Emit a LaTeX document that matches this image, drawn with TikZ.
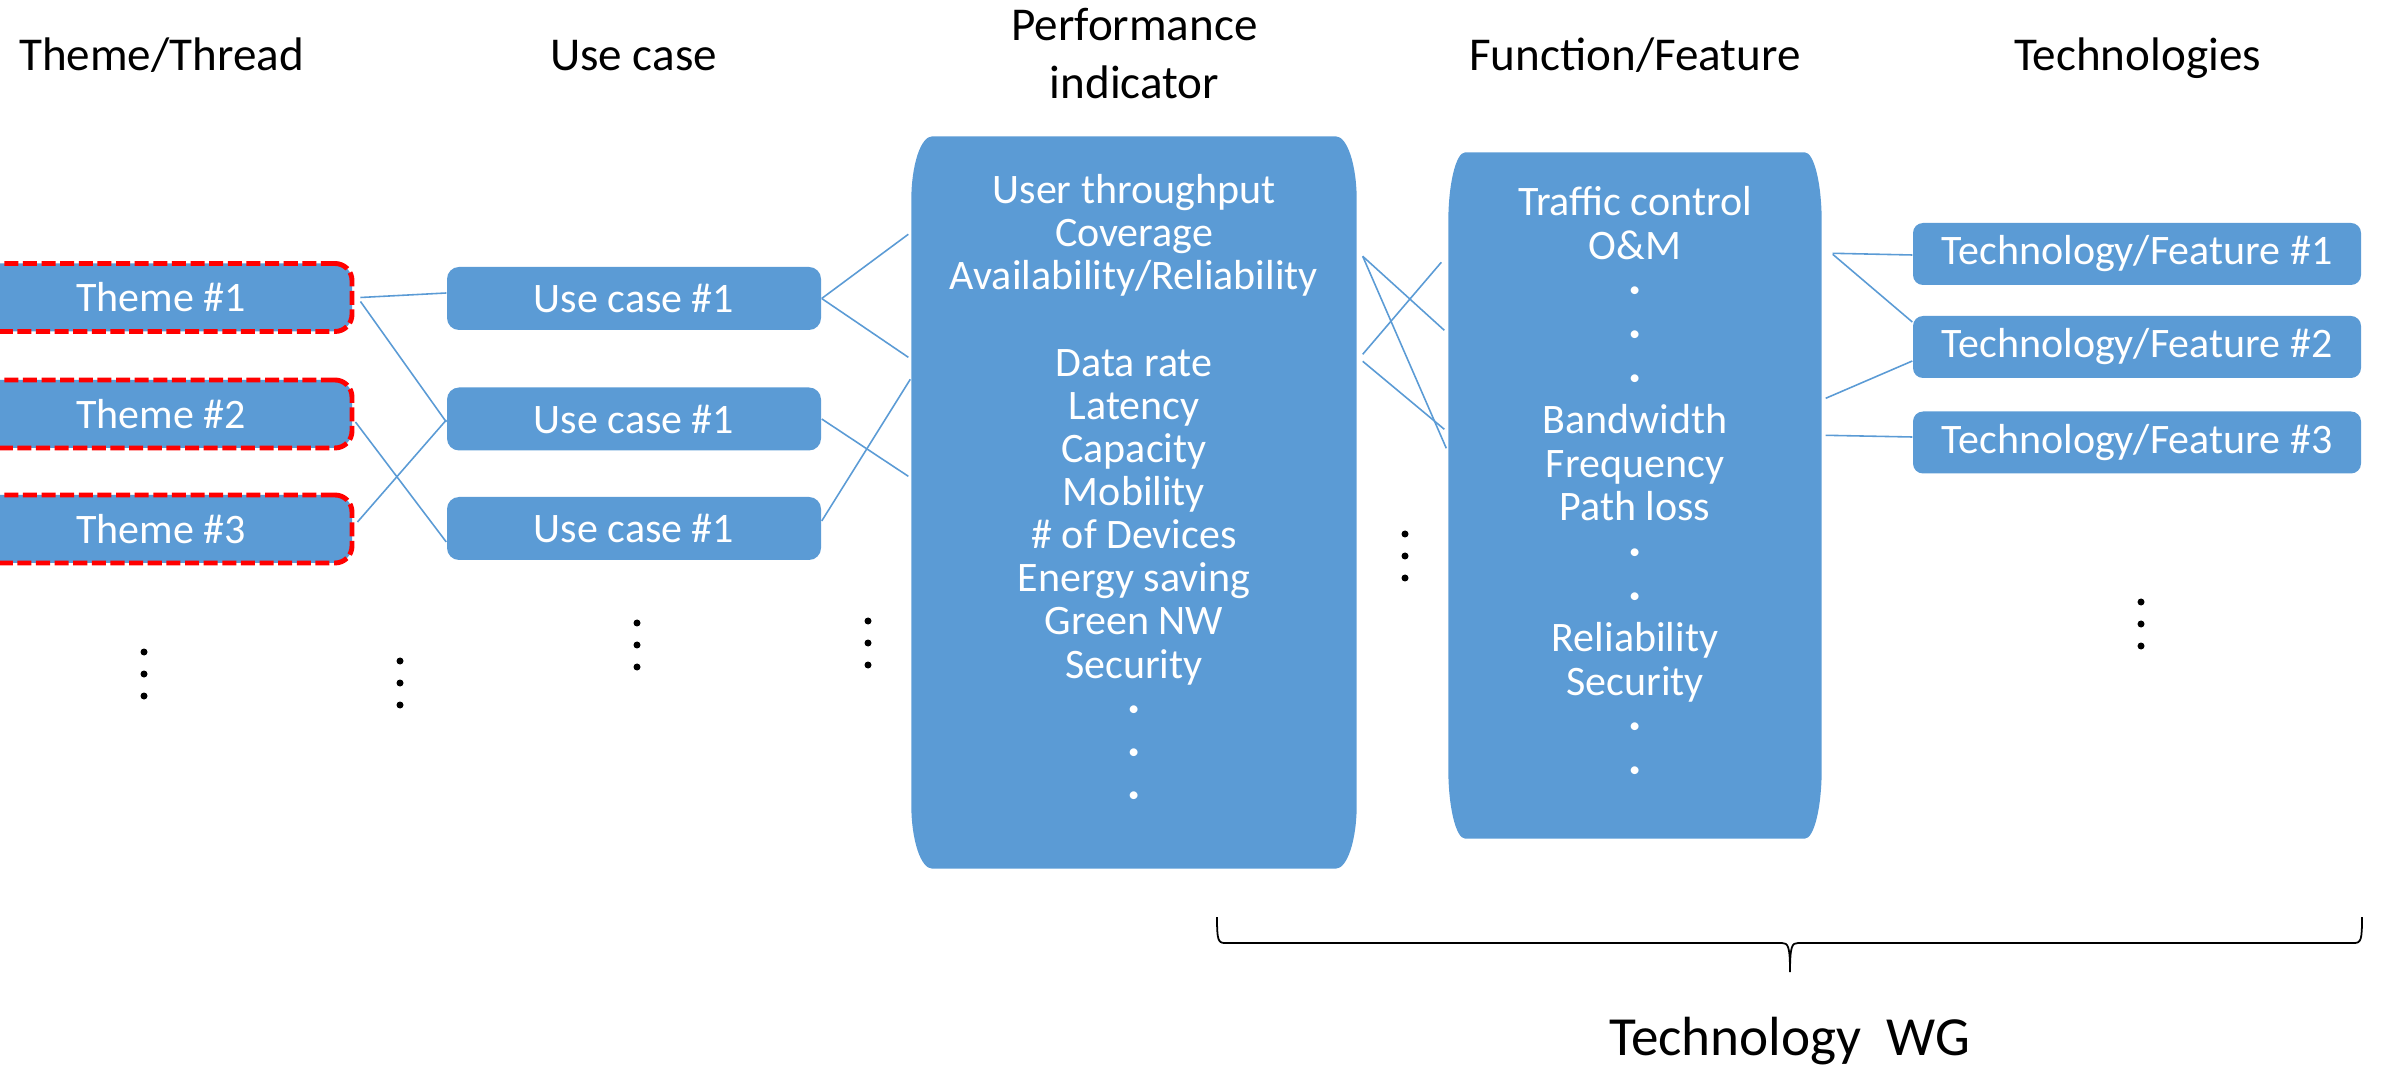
\documentclass[tikz,border=0pt]{standalone}
\usepackage{fontspec}
\setmainfont{Carlito}
\usetikzlibrary{positioning}

\definecolor{boxblue}{HTML}{5B9BD5}
\definecolor{dashred}{HTML}{FF0000}

\newcommand{\bodyfont}{\fontsize{11.95}{12.27}\selectfont}
\newcommand{\headfont}{\fontsize{13.4}{16.5}\selectfont}
\newcommand{\wgfont}{\fontsize{15.7}{19}\selectfont}
\newcommand{\wdot}{{\bfseries ·}}

% filled column with elliptic corners round an empty node
\newcommand{\capsule}[3]{%
  \fill[boxblue] ([yshift=-#3]#1.north west) arc[start angle=180, end angle=90, x radius=#2, y radius=#3]
    -- ([xshift=-#2]#1.north east) arc[start angle=90, end angle=0, x radius=#2, y radius=#3]
    -- ([yshift=#3]#1.south east) arc[start angle=0, end angle=-90, x radius=#2, y radius=#3]
    -- ([xshift=#2]#1.south west) arc[start angle=270, end angle=180, x radius=#2, y radius=#3]
    -- cycle;}

\tikzset{
  box/.style={fill=boxblue, text=white, font=\bodyfont, inner sep=0pt},
  themebox/.style={box, minimum width=3.82cm, minimum height=0.68cm, rounded corners=0.17cm,
    draw=dashred, line width=1.4pt, dash pattern=on 4pt off 1.3pt},
  usebox/.style={box, minimum width=3.74cm, minimum height=0.63cm, rounded corners=0.12cm},
  techbox/.style={box, minimum width=4.48cm, minimum height=0.62cm, rounded corners=0.1cm},
  column/.style={inner sep=0pt},
  coltext/.style={text=white, font=\bodyfont, align=center, inner sep=0pt},
  head/.style={font=\headfont, align=center, anchor=base, inner sep=0pt},
  link/.style={draw=boxblue, line width=0.45pt},
  brace/.style={draw=black, line width=0.5pt}
}

\begin{document}
\begin{tikzpicture}
  \useasboundingbox (0,0) rectangle (23.82,-10.66);

  %% Headers
  \node[head] (hdtheme) at (1.615,-0.71) {Theme/Thread};
  \node[head] (hduse) at (6.335,-0.71) {Use case};
  \node[head] (hdperf) at (11.345,-0.99) {Performance\\indicator};
  \node[head] (hdfunc) at (16.35,-0.71) {Function/Feature};
  \node[head] (hdtech) at (21.375,-0.71) {Technologies};

  %% Themes
  \node[themebox] (t1) at (1.61,-2.975) {Theme \#1};
  \node[themebox] (t2) at (1.61,-4.14) {Theme \#2};
  \node[themebox] (t3) at (1.61,-5.29) {Theme \#3};

  %% Use cases
  \node[usebox] (u1) at (6.34,-2.985) {Use case \#1};
  \node[usebox] (u2) at (6.34,-4.19) {Use case \#1};
  \node[usebox] (u3) at (6.34,-5.285) {Use case \#1};

  %% Performance indicator column
  \node[column, minimum width=4.44cm, minimum height=7.31cm] (perf) at (11.34,-5.025) {};
  \capsule{perf}{0.21cm}{0.64cm}
  \node[coltext] (perftext) at (11.34,-4.91) {User throughput\\Coverage\\Availability/Reliability\\\mbox{}\\Data rate\\Latency\\Capacity\\Mobility\\\# of Devices\\Energy saving\\Green NW\\Security\\\wdot\\\wdot\\\wdot};

  %% Function/Feature column
  \node[column, minimum width=3.72cm, minimum height=6.85cm] (func) at (16.35,-4.955) {};
  \capsule{func}{0.17cm}{0.7cm}
  \node[coltext, font=\fontsize{11.95}{12.4}\selectfont] (functext) at (16.35,-4.845) {Traffic control\\O\&M\\\wdot\\\wdot\\\wdot\\Bandwidth\\Frequency\\Path loss\\\wdot\\\wdot\\Reliability\\Security\\\wdot\\\wdot};

  %% Technologies
  \node[techbox] (te1) at (21.37,-2.54) {Technology/Feature \#1};
  \node[techbox] (te2) at (21.37,-3.47) {Technology/Feature \#2};
  \node[techbox] (te3) at (21.37,-4.425) {Technology/Feature \#3};

  %% Links theme -> use case
  \draw[link] ([xshift=0.06cm]t1.east) -- ([yshift=0.055cm]u1.west);
  \draw[link] ([xshift=0.06cm,yshift=-0.04cm]t1.east) -- ([yshift=-0.03cm]u2.west);
  \draw[link] ([xshift=0.01cm,yshift=-0.08cm]t2.east) -- ([yshift=-0.135cm]u3.west);
  \draw[link] ([xshift=0.03cm,yshift=0.07cm]t3.east) -- ([yshift=-0.01cm]u2.west);

  %% Links use case -> performance
  \draw[link] (u1.east) -- ([xshift=-0.03cm,yshift=-0.98cm]perf.north west);
  \draw[link] (u1.east) -- ([xshift=-0.03cm,yshift=-2.21cm]perf.north west);
  \draw[link] (u2.east) -- ([xshift=-0.03cm,yshift=-3.40cm]perf.north west);
  \draw[link] ([yshift=0.075cm]u3.east) -- ([xshift=-0.01cm,yshift=-2.43cm]perf.north west);

  %% Links performance -> function
  \draw[link] ([xshift=0.06cm,yshift=-1.20cm]perf.north east) -- ([xshift=-0.04cm,yshift=-1.78cm]func.north west);
  \draw[link] ([xshift=0.06cm,yshift=-1.20cm]perf.north east) -- ([xshift=-0.02cm,yshift=-2.96cm]func.north west);
  \draw[link] ([xshift=0.06cm,yshift=-2.18cm]perf.north east) -- ([xshift=-0.07cm,yshift=-1.10cm]func.north west);
  \draw[link] ([xshift=0.06cm,yshift=-2.25cm]perf.north east) -- ([xshift=-0.04cm,yshift=-2.77cm]func.north west);

  %% Links function -> technologies
  \draw[link] ([xshift=0.11cm,yshift=-1.01cm]func.north east) -- ([yshift=-0.01cm]te1.west);
  \draw[link] ([xshift=0.11cm,yshift=-1.02cm]func.north east) -- ([yshift=0.25cm]te2.west);
  \draw[link] ([xshift=0.04cm,yshift=-2.46cm]func.north east) -- ([yshift=-0.14cm]te2.west);
  \draw[link] ([xshift=0.04cm,yshift=-2.83cm]func.north east) -- ([yshift=0.055cm]te3.west);

  %% Vertical ellipses
  \foreach \x/\y in {1.44/-6.52, 4.00/-6.61, 6.37/-6.23, 8.68/-6.21, 14.05/-5.34, 21.41/-6.02}
    \foreach \k in {0,1,2}
      \fill (\x,{\y-0.22*\k}) circle (0.035);

  %% Brace and working group
  \coordinate (bracetip) at (17.90,-9.72);
  \draw[brace] (12.17,-9.17) .. controls (12.17,-9.40) and (12.18,-9.43) .. (12.25,-9.43)
    -- (17.82,-9.43) .. controls (17.88,-9.43) and (17.90,-9.46) .. (bracetip)
    .. controls (17.90,-9.46) and (17.92,-9.43) .. (17.98,-9.43)
    -- (23.54,-9.43) .. controls (23.61,-9.43) and (23.62,-9.40) .. (23.62,-9.17);
  \node[font=\wgfont, anchor=base, inner sep=0pt] (wg) at (17.895,-10.55) {Technology\ \ WG};

\end{tikzpicture}
\end{document}
